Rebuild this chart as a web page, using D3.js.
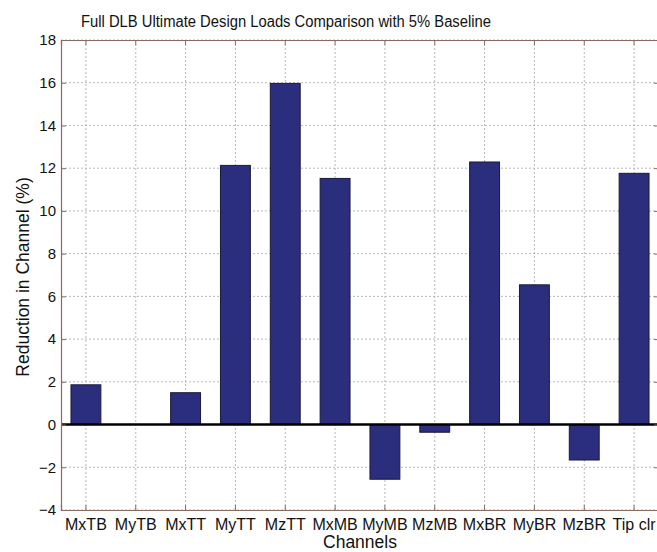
<!DOCTYPE html>
<html>
<head>
<meta charset="utf-8">
<script src="https://cdn.jsdelivr.net/npm/d3@7"></script>
<style>
  body { margin: 0; background: #fff; }
  text { font-family: "Liberation Sans", Arial, sans-serif; fill: #111; }
</style>
</head>
<body>
<div class="chart"></div>
<script>
// data
var channels = ["MxTB", "MyTB", "MxTT", "MyTT", "MzTT", "MxMB", "MyMB", "MzMB", "MxBR", "MyBR", "MzBR", "Tip clr"];
var reduction = [1.86, 0, 1.49, 12.13, 15.97, 11.52, -2.56, -0.36, 12.29, 6.54, -1.66, 11.76];
var yTicks = [-4, -2, 0, 2, 4, 6, 8, 10, 12, 14, 16, 18];

var svgWidth = 657;
var svgHeight = 552;
var margin = { top: 40, right: -2, bottom: 42, left: 61 };

var width = svgWidth - margin.left - margin.right;
var height = svgHeight - margin.top - margin.bottom;

var svg = d3.select(".chart")
    .append("svg")
    .attr("width", svgWidth)
    .attr("height", svgHeight);

var chartGroup = svg.append("g")
    .attr("transform", `translate(${margin.left},${margin.top})`);

// scales
var xScale = d3.scaleBand()
    .domain(channels)
    .range([0, width])
    .paddingInner(0.4)
    .paddingOuter(0.2);

var xCenter = d => xScale(d) + xScale.bandwidth() / 2;

var yScale = d3.scaleLinear()
    .domain([-4, 18])
    .range([height, 0]);

// grid
var grid = chartGroup.append("g").attr("class", "grid");
grid.selectAll(".hgrid")
    .data(yTicks)
    .enter()
    .append("line")
    .attr("x1", 0).attr("x2", width)
    .attr("y1", d => yScale(d)).attr("y2", d => yScale(d))
    .attr("stroke", "#b8b8b8")
    .attr("stroke-dasharray", "2,2");
grid.selectAll(".vgrid")
    .data(channels)
    .enter()
    .append("line")
    .attr("x1", xCenter).attr("x2", xCenter)
    .attr("y1", 0).attr("y2", height)
    .attr("stroke", "#b8b8b8")
    .attr("stroke-dasharray", "2,2");

// bars
chartGroup.selectAll(".bar")
    .data(channels)
    .enter()
    .append("rect")
    .attr("class", "bar")
    .attr("x", d => xScale(d))
    .attr("width", xScale.bandwidth())
    .attr("y", (d, i) => yScale(Math.max(0, reduction[i])))
    .attr("height", (d, i) => Math.abs(yScale(reduction[i]) - yScale(0)))
    .attr("fill", "#2a2e7c")
    .attr("stroke", "#1a1a3a")
    .attr("stroke-width", 1);

// zero line
chartGroup.append("line")
    .attr("x1", 0).attr("x2", width)
    .attr("y1", yScale(0)).attr("y2", yScale(0))
    .attr("stroke", "#000")
    .attr("stroke-width", 2.5);

// axes
var axisColor = "#8a6a60";
var leftAxis = d3.axisLeft(yScale).tickValues(yTicks).tickSize(-5).tickPadding(5);
var rightAxis = d3.axisRight(yScale).tickValues(yTicks).tickSize(-5).tickFormat("");
var bottomAxis = d3.axisBottom(xScale).tickSize(-5).tickPadding(9);
var topAxis = d3.axisTop(xScale).tickSize(-5).tickFormat("");

var gl = chartGroup.append("g").call(leftAxis);
var gr = chartGroup.append("g").attr("transform", `translate(${width},0)`).call(rightAxis);
var gb = chartGroup.append("g").attr("transform", `translate(0,${height})`).call(bottomAxis);
var gt = chartGroup.append("g").call(topAxis);

[gl, gr, gb, gt].forEach(function(g) {
  g.selectAll("path").attr("stroke", axisColor).attr("stroke-width", 1.2);
  g.selectAll("line").attr("stroke", axisColor);
});
gl.selectAll("text").style("font-size", "15px").attr("fill", "#111");
gb.selectAll("text").style("font-size", "16px").attr("fill", "#111");

// title and axis labels
svg.append("text")
    .attr("x", 286)
    .attr("y", 27)
    .attr("text-anchor", "middle")
    .attr("textLength", 410)
    .attr("lengthAdjust", "spacingAndGlyphs")
    .style("font-size", "16px")
    .text("Full DLB Ultimate Design Loads Comparison with 5% Baseline");

svg.append("text")
    .attr("transform", "rotate(-90)")
    .attr("x", -277)
    .attr("y", 29)
    .attr("text-anchor", "middle")
    .style("font-size", "17.5px")
    .text("Reduction in Channel (%)");

svg.append("text")
    .attr("x", 360)
    .attr("y", 548)
    .attr("text-anchor", "middle")
    .style("font-size", "17.5px")
    .text("Channels");
</script>
</body>
</html>
